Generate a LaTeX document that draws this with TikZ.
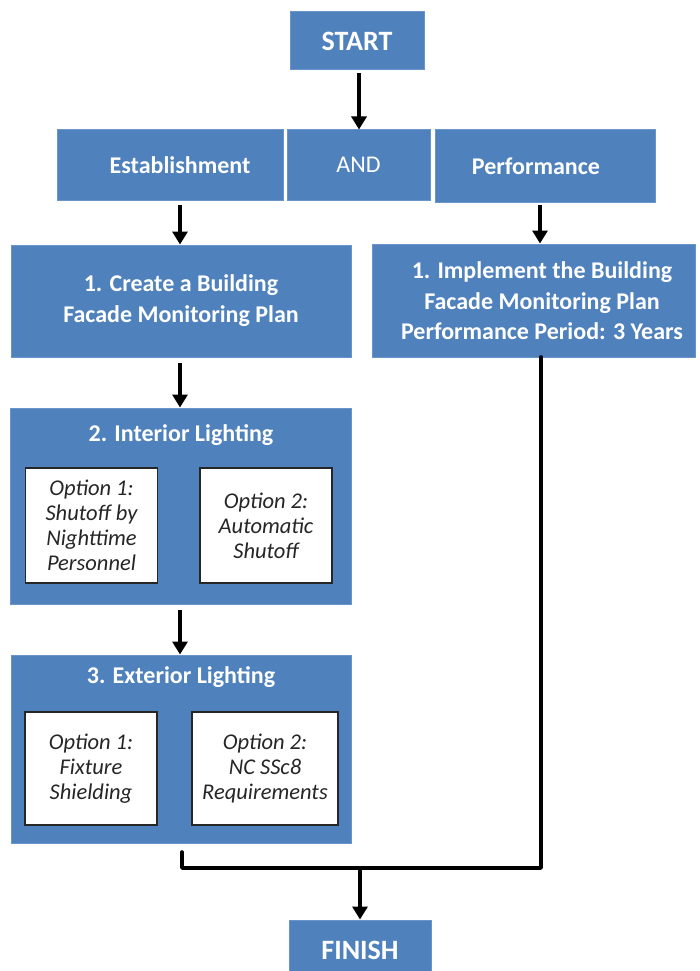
\documentclass[tikz,border=0pt]{standalone}
\usepackage{fontspec}
\setmainfont{Carlito}
\usetikzlibrary{arrows.meta}
\definecolor{boxblue}{HTML}{4F81BD}
\definecolor{edgeblue}{HTML}{6A95CB}
\tikzset{
  bluebox/.style={draw=edgeblue, line width=1pt, fill=boxblue, text=white, align=center, inner sep=0pt},
  optbox/.style={draw=black!85, line width=1.6pt, fill=white, text=black!85, align=center, inner sep=0pt, font=\fontsize{22.5}{25}\selectfont\itshape},
  title/.style={text=white, font=\fontsize{24}{30}\selectfont\bfseries, align=center},
  flow/.style={line width=3.6pt, draw=black, -{Triangle[length=13pt,width=15pt]}},
  plain/.style={line width=3.6pt, draw=black, line join=round, line cap=round}
}
\begin{document}
\begin{tikzpicture}[x=1pt,y=-1pt]
\useasboundingbox (0,0) rectangle (700,971);
% START
\node[bluebox, minimum width=134pt, minimum height=58pt, font=\fontsize{28}{30}\selectfont\bfseries] (start) at (357,41) {START};
% second row
\node[bluebox, minimum width=226pt, minimum height=70pt] (est) at (170,165) {};
\node[title] (estt) at (180,165) {Establishment};
\node[bluebox, minimum width=143pt, minimum height=70pt, font=\fontsize{24}{26}\selectfont] (and) at (358.5,165) {AND};
\node[bluebox, minimum width=220pt, minimum height=72pt] (perf) at (545,166) {};
\node[title] (perft) at (536,166) {Performance};
% step 1 boxes
\node[bluebox, minimum width=340pt, minimum height=112pt, font=\fontsize{24}{31}\selectfont\bfseries] (create) at (181,301) {1. Create a Building\\Facade Monitoring Plan};
\node[bluebox, minimum width=323pt, minimum height=113pt] (impl) at (534,300.5) {};
\node[title, font=\fontsize{24}{30.5}\selectfont\bfseries] (implt) at (542,301) {1. Implement the Building\\Facade Monitoring Plan\\Performance Period: 3 Years};
% interior lighting
\node[bluebox, minimum width=341pt, minimum height=196pt] (intr) at (181,506) {};
\node[title] (intrt) at (181,435) {2. Interior Lighting};
\node[optbox, minimum width=132pt, minimum height=115pt] (io1) at (91.5,525.5) {Option 1:\\Shutoff by\\Nighttime\\Personnel};
\node[optbox, minimum width=132pt, minimum height=115pt] (io2) at (266,525.5) {Option 2:\\Automatic\\Shutoff};
% exterior lighting
\node[bluebox, minimum width=340pt, minimum height=188pt] (extr) at (181,749) {};
\node[title] (extrt) at (181,677) {3. Exterior Lighting};
\node[optbox, minimum width=132pt, minimum height=113pt] (eo1) at (91,768.5) {Option 1:\\Fixture\\Shielding};
\node[optbox, minimum width=146pt, minimum height=113pt] (eo2) at (265,768.5) {Option 2:\\NC SSc8\\Requirements};
% finish
\node[bluebox, minimum width=142pt, minimum height=60pt, font=\fontsize{28}{30}\selectfont\bfseries] (finish) at (360,950) {FINISH};
% connectors
\coordinate (estb) at (180,205);
\coordinate (perfb) at (540,205);
\coordinate (join) at (360,868);
\draw[flow] (start.south) ++(2,3) coordinate (s1) -- (s1 |- est.north) coordinate (s1e);
\draw[flow] (estb) -- (estb |- create.north);
\draw[flow] (perfb) -- (perfb |- impl.north);
\draw[flow] (180,363) coordinate (c1) -- (c1 |- intr.north);
\draw[flow] (180,610) coordinate (c2) -- (c2 |- extr.north);
\draw[plain] (182,852) coordinate (c3) -- (c3 |- join) -| (541,357) coordinate (c4);
\draw[flow] (join) -- (join |- finish.north);
\end{tikzpicture}
\end{document}
